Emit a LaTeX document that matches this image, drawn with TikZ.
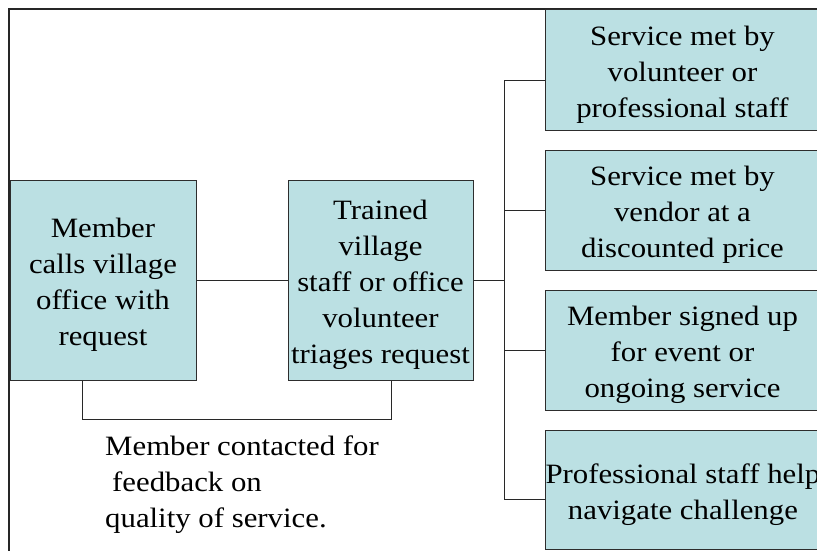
\documentclass[tikz,border=0pt]{standalone}
\usepackage{fontspec}
\setmainfont{Liberation Serif}[FakeStretch=1.1]
\definecolor{boxfill}{RGB}{187,224,227}
\definecolor{boxline}{RGB}{45,45,45}
\definecolor{connline}{RGB}{40,40,40}
\newcommand{\tgapx}{\rule{0pt}{28.5pt}}
\begin{document}
\begin{tikzpicture}[x=1pt,y=-1pt,
  box/.style={draw=boxline, fill=boxfill, line width=1pt, inner sep=0pt, align=center,
    font=\fontsize{28}{36}\selectfont},
  sidebox/.style={box, minimum width=274, anchor=west},
  conn/.style={draw=connline, line width=1pt},
  framelines/.style={draw=black!85, line width=2pt},
  note/.style={anchor=north west, align=left, inner sep=0pt, font=\fontsize{28}{36}\selectfont}]
\useasboundingbox (0,0) rectangle (817,550);
\clip (0,0) rectangle (817,550);
\fill[white] (0,0) rectangle (817,550);
\draw[framelines] (9,560) -- (9,9) -- (830,9);

\node[box, minimum width=186, minimum height=200] (A) at (103,280) {\tgapx Member\\calls village\\office with\\request};
\node[box, minimum width=185, minimum height=200] (B) at (380.5,280) {\tgapx Trained\\village\\staff or office\\volunteer\\triages request};

\node[sidebox, minimum height=121] (S1) at (545,70) {\tgapx Service met by\\volunteer or\\professional staff};
\node[sidebox, minimum height=120] (S2) at (545,210) {\tgapx Service met by\\vendor at a\\discounted price};
\node[sidebox, minimum height=120] (S3) at (545,350) {\tgapx Member signed up\\for event or\\ongoing service};
\node[sidebox, minimum height=119] (S4) at (545,490) {\tgapx Professional staff help\\navigate challenge};

\coordinate (t1) at (504,80);
\coordinate (t2) at (504,210);
\coordinate (t3) at (504,350);
\coordinate (t4) at (504,499);
\coordinate (fbA) at (82,419);
\coordinate (fbB) at (391,419);

\draw[conn] (A.east) -- (B.west);
\draw[conn] (B.east) -- (B.east -| t1);
\draw[conn] (t1) -- (t4);
\draw[conn] (t1) -- (t1 -| S1.west);
\draw[conn] (t2) -- (t2 -| S2.west);
\draw[conn] (t3) -- (t3 -| S3.west);
\draw[conn] (t4) -- (t4 -| S4.west);
\draw[conn] (A.south -| fbA) -- (fbA) -- (fbB) -- (B.south -| fbB);

\node[note] (fb) at (105,436) {Member contacted for\\\hspace*{7pt}feedback on\\quality of service.};
\end{tikzpicture}
\end{document}
